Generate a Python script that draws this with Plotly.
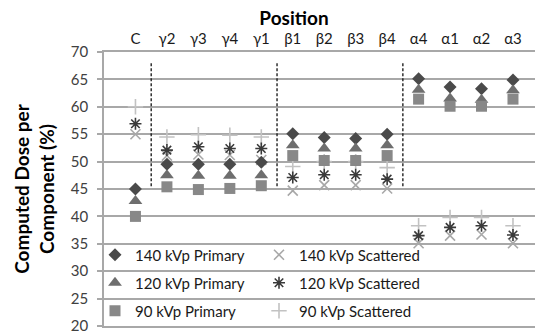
import plotly.graph_objects as go

categories = ["C", "γ2", "γ3", "γ4", "γ1", "β1", "β2", "β3", "β4", "α4", "α1", "α2", "α3"]
group_sizes = [1, 4, 4, 4]

p140 = [45.0, 49.5, 49.5, 49.5, 49.9, 55.1, 54.4, 54.2, 55.0, 65.1, 63.6, 63.3, 64.9]
p120 = [42.8, 47.5, 47.4, 47.4, 47.5, 53.0, 52.4, 52.4, 53.0, 63.1, 61.5, 61.3, 63.0]
p90 = [40.0, 45.4, 44.9, 45.1, 45.6, 51.1, 50.2, 50.2, 51.1, 61.4, 60.1, 60.1, 61.4]
s140 = [55.0, 51.1, 51.3, 51.2, 50.3, 44.7, 45.7, 45.7, 45.1, 35.1, 36.5, 36.7, 35.1]
s120 = [56.9, 52.1, 52.7, 52.4, 52.4, 47.1, 47.6, 47.6, 46.8, 36.5, 38.0, 38.3, 36.6]
s90 = [60.0, 54.5, 54.9, 54.8, 54.5, 49.1, 50.0, 50.0, 48.9, 38.3, 39.8, 39.8, 38.3]

y_ticks = [20, 25, 30, 35, 40, 45, 50, 55, 60, 65, 70]

FONT = "Lato, 'Open Sans', sans-serif"
xpos = list(range(1, len(categories) + 1))

plot_top, plot_bot = 52, 326
plot_left, W, H = 104, 535, 334
ph = plot_bot - plot_top
pw = W - plot_left

def ly(px):
    return (plot_bot - px) / ph

def lx(px):
    return (px - plot_left) / pw

# legend grid: (column left px, row centre px)
col_px = [95, 259]
row_px = [255, 283, 311]

series = [
    ("140 kVp Primary", p140, "diamond", "#4a4a4a", 10, 0, 0),
    ("140 kVp Scattered", s140, "x-thin-open", "#a8a8a8", 10, 1, 0),
    ("120 kVp Primary", p120, "triangle-up", "#6e6e6e", 12, 0, 1),
    ("120 kVp Scattered", s120, "asterisk-open", "#3a3a3a", 10, 1, 1),
    ("90 kVp Primary", p90, "square", "#888888", 11, 0, 2),
    ("90 kVp Scattered", s90, "cross-thin-open", "#c2c2c2", 11, 1, 2),
]

# draw order: scattered first then primaries (square on top)
draw_order = [5, 1, 3, 0, 2, 4]

fig = go.Figure()
legends = {}
for i in draw_order:
    name, vals, sym, col, size, c, r = series[i]
    lg = "legend" if i == 0 else f"legend{i + 1}"
    fig.add_trace(go.Scatter(
        x=xpos, y=vals, mode="markers", name=name,
        marker=dict(symbol=sym, color=col, size=size,
                    line=dict(color=col, width=1.6 if "open" in sym else 0)),
        legend=lg, showlegend=True,
    ))
    legends[lg] = dict(x=lx(col_px[c]), y=ly(row_px[r]), xanchor="left", yanchor="middle",
                       bgcolor="rgba(0,0,0,0)", borderwidth=0,
                       font=dict(family=FONT, size=15, color="#1a1a1a"), itemwidth=30)

# dashed separators between groups
boundaries = []
acc = 0
for g in group_sizes[:-1]:
    acc += g
    boundaries.append(acc + 0.5)
for b in boundaries:
    fig.add_shape(type="line", x0=b, x1=b, y0=45.5, y1=68.3, xref="x", yref="y",
                  line=dict(color="#111111", width=1.3, dash="3px,2px"))

fig.update_layout(
    width=W, height=H, showlegend=True,
    margin=dict(l=plot_left, r=0, t=plot_top, b=H - plot_bot, autoexpand=False),
    paper_bgcolor="white", plot_bgcolor="white",
    font=dict(family=FONT, color="#404040"),
    title=dict(text="<b>Position</b>", x=294 / W, xanchor="center", xref="container",
               y=1 - 18 / H, yanchor="middle", yref="container",
               font=dict(family=FONT, size=19, color="#000000")),
    xaxis=dict(range=[0, 13.7], side="top", tickmode="array", tickvals=xpos, ticktext=categories,
               showgrid=False, zeroline=False, showline=True, mirror=True,
               linecolor="#a8a8a8", linewidth=1.5, ticks="",
               tickfont=dict(family=FONT, size=15, color="#1a1a1a"), ticklabelstandoff=0,
               fixedrange=True),
    yaxis=dict(range=[20, 70], tickmode="array", tickvals=y_ticks,
               showgrid=True, gridcolor="#a8a8a8", gridwidth=1.5, zeroline=False,
               showline=True, linecolor="#a8a8a8", linewidth=1.5,
               ticks="outside", ticklen=5, tickcolor="#a8a8a8", tickwidth=1.5,
               ticklabelstandoff=6, ticklabeloverflow="allow",
               tickfont=dict(family=FONT, size=15, color="#404040"),
               title=dict(text="<b>Computed Dose per<br>Component (%)</b>", standoff=11,
                          font=dict(family=FONT, size=19, color="#000000")),
               automargin=False, fixedrange=True),
    **legends,
)

fig.write_html("out.html")
